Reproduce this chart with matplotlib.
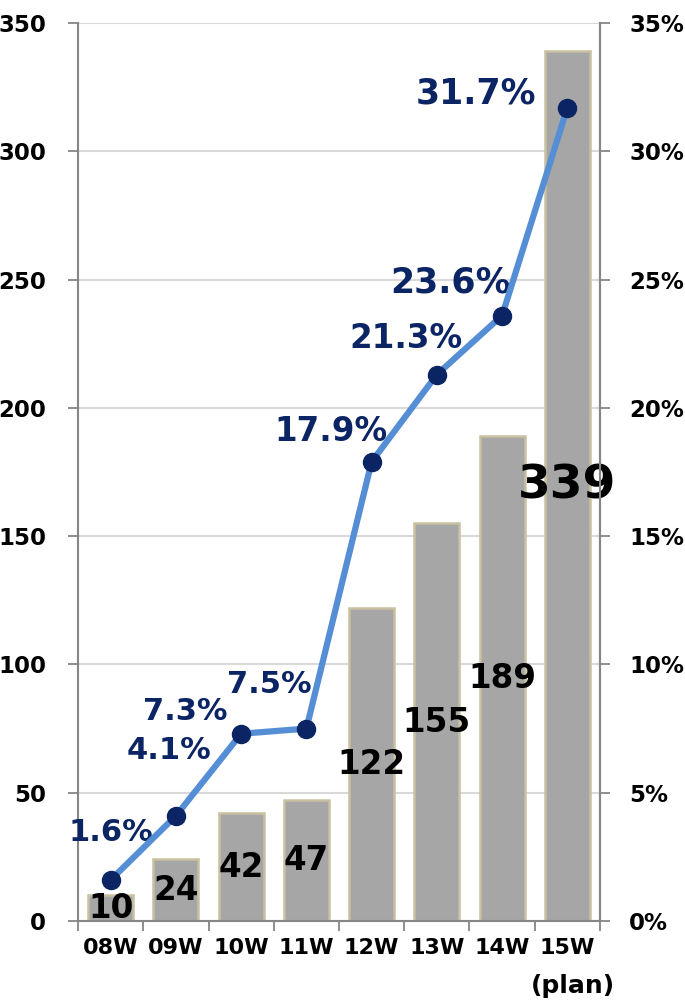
import numpy as np
import matplotlib
matplotlib.use("Agg")
import matplotlib.pyplot as plt
from matplotlib.transforms import blended_transform_factory

plt.rcParams['font.family'] = ['DejaVu Sans']
plt.rcParams['font.weight'] = 'bold'

# data
weeks = ["08W", "09W", "10W", "11W", "12W", "13W", "14W", "15W"]
counts = [10, 24, 42, 47, 122, 155, 189, 339]
ratio = [1.6, 4.1, 7.3, 7.5, 17.9, 21.3, 23.6, 31.7]

# label placement for the percentages (offset in points from the marker) and sizes
pct_offsets = [(0, 34), (-5, 47), (-40, 16), (-27, 32), (-29, 22), (-22, 26), (-37, 24), (-66, 10)]
pct_sizes = [22, 22, 22, 22, 23.5, 23.5, 25, 25]
count_sizes = [23.5, 23.5, 23.5, 23.5, 23.5, 23.5, 23.5, 34]

bar_color = "#a6a6a6"
bar_edge = "#c9c0a0"
line_color = "#558ed5"
navy = "#0b2463"
axis_gray = "#868686"

fig = plt.figure(figsize=(6.85, 10.02), dpi=100)
ax = fig.add_axes([0.1139, 0.0808, 0.7620, 0.8962])
ax2 = ax.twinx()

x = np.arange(len(weeks))
ax.bar(x, counts, width=0.69, color=bar_color, edgecolor=bar_edge, linewidth=1.8, zorder=2)

for xi, c, fs in zip(x, counts, count_sizes):
    ax.text(xi, c / 2, str(c), ha="center", va="center", fontsize=fs,
            fontweight="bold", color="black", zorder=5)

ax.set_xlim(-0.5, len(weeks) - 0.5)
ax.set_ylim(0, 350)
ax.set_yticks(np.arange(0, 351, 50))
ax.yaxis.grid(True, color="#d9d9d9", linewidth=1.5, zorder=0)
ax.set_axisbelow(True)

# category labels in the middle, tick marks on the boundaries
ax.set_xticks(x)
ax.set_xticklabels(weeks, fontsize=16, fontweight="bold")
ax.tick_params(axis="x", which="major", length=0, pad=12)
ax.set_xticks(np.arange(-0.5, len(weeks)), minor=True)
ax.tick_params(axis="x", which="minor", length=7, width=1.3, color=axis_gray)
ax.tick_params(axis="y", length=7, width=1.3, color=axis_gray, labelsize=16.5, pad=16)
for lab in ax.get_yticklabels():
    lab.set_fontweight("bold")

trans = blended_transform_factory(ax.transData, ax.transAxes)
ax.text(x[-1] + 0.09, -0.072, "(plan)", transform=trans, ha="center", va="center",
        fontsize=18, fontweight="bold")

for sp in ["top"]:
    ax.spines[sp].set_visible(False)
    ax2.spines[sp].set_visible(False)
for sp in ["left", "bottom", "right"]:
    ax.spines[sp].set_color(axis_gray)
    ax.spines[sp].set_linewidth(1.5)
ax2.spines["right"].set_color(axis_gray)
ax2.spines["right"].set_linewidth(1.5)
ax2.spines["left"].set_visible(False)
ax2.spines["bottom"].set_visible(False)

# ratio line
ax2.plot(x, ratio, color=line_color, linewidth=4.5, marker="o", markersize=13,
         markerfacecolor=navy, markeredgecolor=navy, zorder=4)
ax2.set_ylim(0, 35)
ax2.set_yticks(np.arange(0, 36, 5))
ax2.set_yticklabels([f"{v}%" for v in range(0, 36, 5)])
ax2.tick_params(axis="y", length=7, width=1.3, color=axis_gray, labelsize=16.5, pad=14)
for lab in ax2.get_yticklabels():
    lab.set_fontweight("bold")

for xi, r, off, fs in zip(x, ratio, pct_offsets, pct_sizes):
    ax2.annotate(f"{r}%", (xi, r), xytext=off, textcoords="offset points",
                 ha="center", va="center", fontsize=fs, fontweight="bold", color=navy)

fig.savefig("out.png", dpi=100)
